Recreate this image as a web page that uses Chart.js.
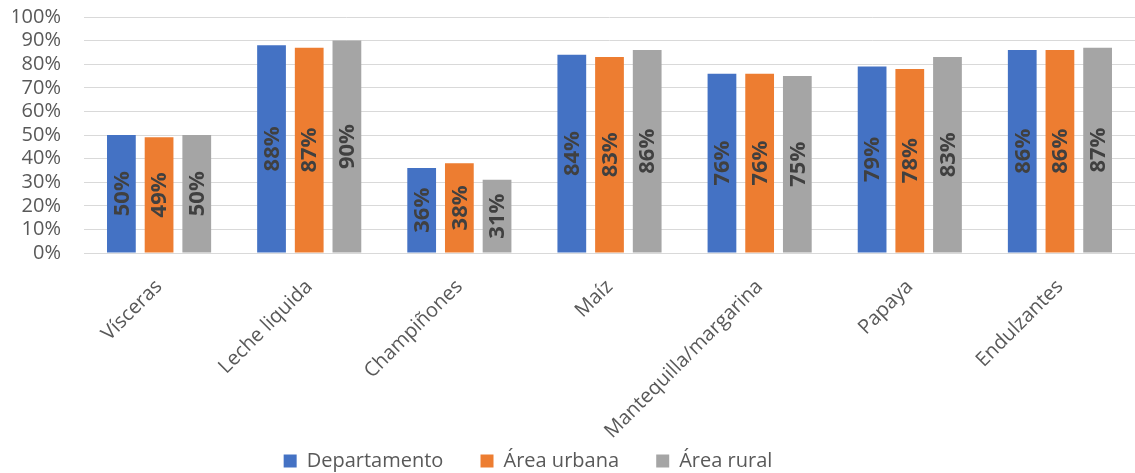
<!DOCTYPE html>
<html lang="es">
<head>
  <meta charset="UTF-8">
  <title>Consumo por área</title>
  <script src="https://cdn.jsdelivr.net/npm/chart.js"></script>
  <style>
    body { margin: 0; background: #fff; }
    .wrap { width: 1135px; height: 473px; }
  </style>
</head>
<body>
  <div class="wrap"><canvas id="chart"></canvas></div>

  <script>
    const categories = ['Vísceras', 'Leche liquida', 'Champiñones', 'Maíz', 'Mantequilla/margarina', 'Papaya', 'Endulzantes'];
    const departamento = [50, 88, 36, 84, 76, 79, 86];
    const areaUrbana = [49, 87, 38, 83, 76, 78, 86];
    const areaRural = [50, 90, 31, 86, 75, 83, 87];
    const seriesNames = ['Departamento', 'Área urbana', 'Área rural'];

    const FONT = '"Open Sans", sans-serif';

    // value labels, rotated, in the middle of each bar
    const barLabels = {
      id: 'barLabels',
      afterDatasetsDraw(chart) {
        const ctx = chart.ctx;
        ctx.save();
        ctx.fillStyle = '#404040';
        ctx.font = 'bold 22px ' + FONT;
        ctx.textAlign = 'center';
        ctx.textBaseline = 'middle';
        chart.data.datasets.forEach((ds, i) => {
          chart.getDatasetMeta(i).data.forEach((bar, j) => {
            const y = (bar.y + bar.base) / 2;
            ctx.save();
            ctx.translate(bar.x, y);
            ctx.rotate(-Math.PI / 2);
            ctx.fillText(ds.data[j] + '%', 0, 1);
            ctx.restore();
          });
        });
        ctx.restore();
      }
    };

    // the original legend sits a bit left of the page centre
    const legendShift = {
      id: 'legendShift',
      afterLayout(chart) {
        chart.legend.left -= 50;
        chart.legend.right -= 50;
      }
    };

    new Chart(document.getElementById('chart'), {
      type: 'bar',
      data: {
        labels: categories,
        datasets: [
          { label: seriesNames[0], data: departamento, backgroundColor: '#4472C4' },
          { label: seriesNames[1], data: areaUrbana, backgroundColor: '#ED7D31' },
          { label: seriesNames[2], data: areaRural, backgroundColor: '#A5A5A5' }
        ]
      },
      options: {
        responsive: true,
        maintainAspectRatio: false,
        animation: false,
        layout: { padding: { left: 13, right: -8, top: 0, bottom: -8 } },
        datasets: { bar: { categoryPercentage: 0.753, barPercentage: 0.763 } },
        scales: {
          x: {
            grid: { display: false, drawTicks: false },
            border: { color: '#d9d9d9', width: 1 },
            ticks: {
              color: '#595959',
              font: { family: FONT, size: 20 },
              minRotation: 45, maxRotation: 45,
              padding: 22
            },
            // rotated labels may hang left of the plot, like the original
            afterFit(scale) { scale.paddingLeft = 0; scale.paddingRight = 0; scale.height = 192; }
          },
          y: {
            min: 0, max: 100,
            grid: { color: '#d9d9d9', lineWidth: 1, drawTicks: false },
            border: { display: false },
            ticks: {
              stepSize: 10,
              autoSkip: false,
              color: '#595959',
              font: { family: FONT, size: 20 },
              padding: 23,
              callback: v => v + '%'
            },
            afterFit(scale) { scale.width = 71; scale.paddingTop = 17; scale.paddingBottom = 0; }
          }
        },
        plugins: {
          legend: {
            position: 'bottom',
            labels: {
              boxWidth: 13, boxHeight: 13,
              color: '#595959',
              font: { family: FONT, size: 20 },
              padding: 6,
              generateLabels(chart) {
                const items = Chart.defaults.plugins.legend.labels.generateLabels(chart);
                // wider gap after each entry, as in the original legend
                items.forEach((it, i) => { if (i < items.length - 1) it.text += '      '; });
                return items;
              }
            }
          },
          tooltip: { enabled: false }
        }
      },
      plugins: [barLabels, legendShift]
    });
  </script>
</body>
</html>
